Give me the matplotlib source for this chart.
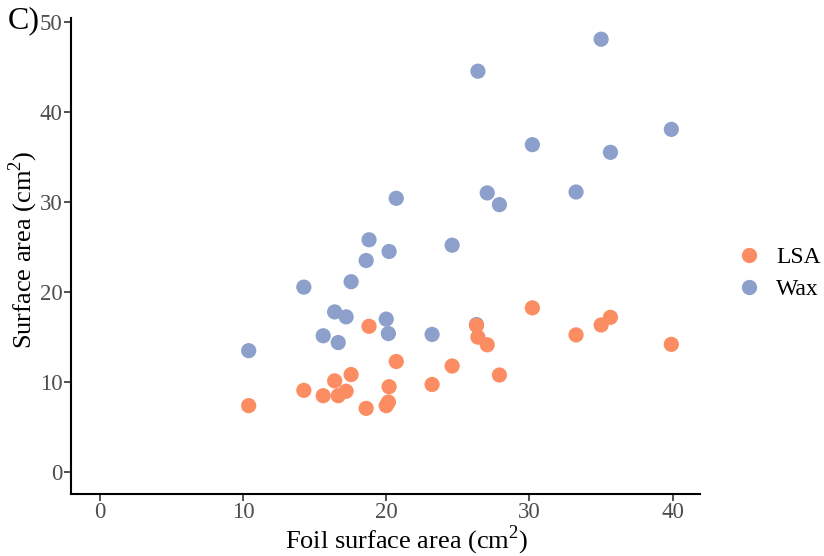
import matplotlib
matplotlib.use('Agg')
import matplotlib.pyplot as plt
from matplotlib.lines import Line2D

plt.rcParams['font.family'] = ['Liberation Serif', 'DejaVu Serif']
plt.rcParams['mathtext.fontset'] = 'custom'
plt.rcParams['mathtext.rm'] = 'Liberation Serif'

# Data
foil = [10.4, 14.25, 15.6, 16.4, 16.65, 17.2, 17.55, 18.6, 18.8, 20.0, 20.15, 20.2,
        20.7, 23.2, 24.6, 26.3, 26.4, 27.05, 27.9, 30.2, 33.25, 35.0, 35.65, 39.9]
wax = [13.5, 20.55, 15.15, 17.8, 14.4, 17.25, 21.15, 23.5, 25.8, 17.0, 15.4, 24.5,
       30.4, 15.3, 25.2, 16.4, 44.5, 31.0, 29.7, 36.35, 31.1, 48.05, 35.5, 38.05]
lsa = [7.4, 9.1, 8.5, 10.15, 8.5, 9.0, 10.85, 7.1, 16.2, 7.4, 7.8, 9.5,
       12.3, 9.75, 11.8, 16.3, 15.0, 14.15, 10.8, 18.25, 15.25, 16.35, 17.2, 14.2]
series_names = ['LSA', 'Wax']
series_colors = ['#FC8D62', '#8DA0CB']
x_ticks = [0, 10, 20, 30, 40]
y_ticks = [0, 10, 20, 30, 40, 50]

fig = plt.figure(figsize=(8.24, 5.56), dpi=100)
ax = fig.add_axes([0.0862, 0.1115, 0.7633, 0.8561])

ax.scatter(foil, wax, s=120, color=series_colors[1], edgecolors='none', zorder=2)
ax.scatter(foil, lsa, s=120, color=series_colors[0], edgecolors='none', zorder=3)

ax.set_xlim(-2.0, 41.9)
ax.set_ylim(-2.4, 50.4)
ax.set_xticks(x_ticks)
ax.set_yticks(y_ticks)

for side in ['top', 'right']:
    ax.spines[side].set_visible(False)
for side in ['left', 'bottom']:
    ax.spines[side].set_linewidth(1.5)
    ax.spines[side].set_color('black')

ax.tick_params(direction='out', length=5, width=1.2, color='#333333',
               labelsize=16.5, labelcolor='#4D4D4D', pad=1)

ax.set_xlabel(r'Foil surface area (cm$^{\mathrm{2}}$)', fontsize=19)
ax.set_ylabel(r'Surface area (cm$^{\mathrm{2}}$)', fontsize=19)
ax.xaxis.set_label_coords(0.534, -0.062)
ax.yaxis.set_label_coords(-0.050, 0.514)

fig.text(0.009, 0.962, 'C)', fontsize=23, ha='left', va='center')

handles = [Line2D([], [], marker='o', linestyle='none', markersize=11,
                  markerfacecolor=c, markeredgecolor='none') for c in series_colors]
fig.legend(handles, series_names, loc='center left', bbox_to_anchor=(0.8976, 0.508),
           frameon=False, fontsize=17, handletextpad=0.74, labelspacing=0.45,
           handlelength=0.8, borderpad=0, borderaxespad=0)

fig.savefig('out.png', dpi=100)
